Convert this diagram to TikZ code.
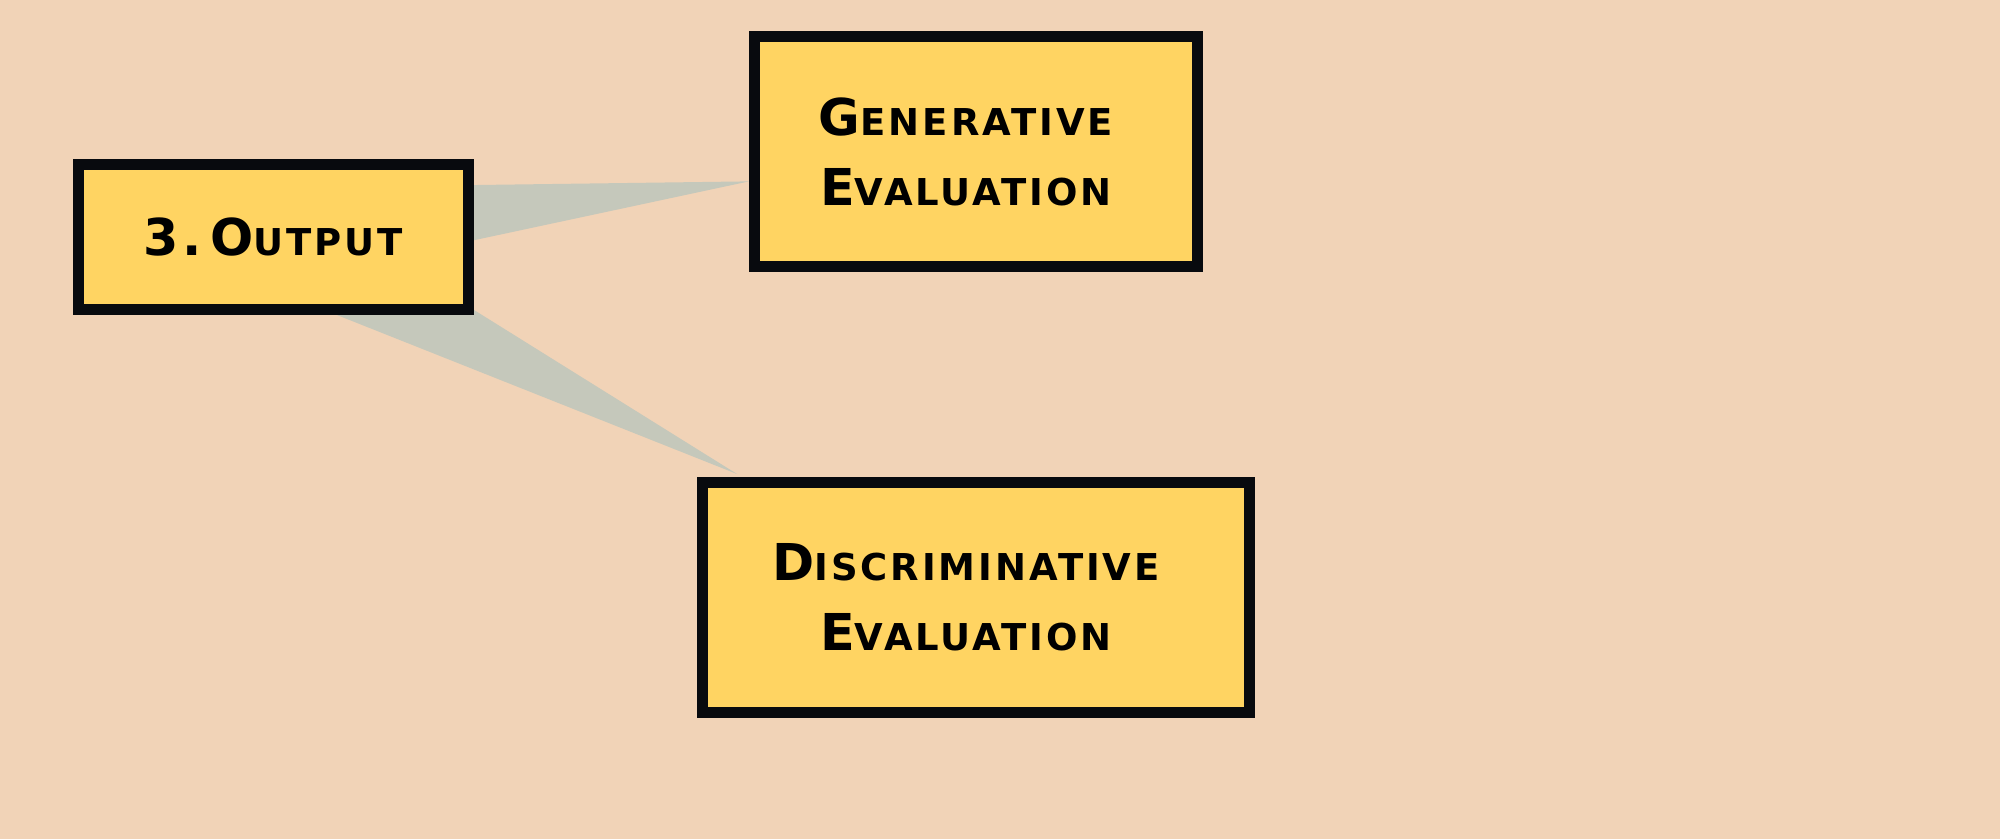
\documentclass[tikz,border=0pt]{standalone}
\usepackage{fontspec}
\setmainfont{DejaVu Sans}
\usetikzlibrary{backgrounds,calc}
\definecolor{page}{RGB}{241,211,183}
\definecolor{boxfill}{RGB}{255,212,98}
\definecolor{wedge}{RGB}{197,200,187}
\definecolor{ink}{RGB}{8,10,14}
% larger initial capitals for the small-caps look
\newcommand\capL[1]{{\fontsize{25.4}{35}\selectfont #1}}
% trailing kern nudges a centred line a little to the left
\newcommand\nudge{\kern10pt}
\tikzset{
  card/.style={draw=ink, fill=boxfill, line width=5.5pt, inner sep=0pt,
    align=center,
    font=\bfseries\fontsize{18.5}{35}\selectfont\addfontfeatures{LetterSpace=8}},
}
\begin{document}
\begin{tikzpicture}[x=0.5pt,y=-0.5pt]
\useasboundingbox (0,0) rectangle (2000,839);

\node[card, minimum width=195pt, minimum height=72.5pt] (out) at (273,237.5)
  {\capL{3.\,O}UTPUT};
\node[card, minimum width=221.5pt, minimum height=115pt] (gen) at (976,151.5)
  {\capL{G}ENERATIVE\nudge\\\capL{E}VALUATION\nudge};
\node[card, minimum width=273.5pt, minimum height=115pt] (disc) at (976,597.5)
  {\capL{D}ISCRIMINATIVE\nudge\\\capL{E}VALUATION\nudge};

\begin{pgfonlayer}{background}
  \fill[page] (0,0) rectangle (2000,839);
  % callout wedges from the output box to the two evaluation boxes
  \fill[wedge] ($(out.center)+(167,-52)$)
    -- ($(gen.north west)!0.624!(gen.south west)$)
    -- ($(out.center)+(167,10)$) -- cycle;
  \fill[wedge] ($(out.center)+(1,52.5)$)
    -- ($(disc.north west)+(40,-3)$)
    -- ($(out.center)+(169,52.5)$) -- cycle;
\end{pgfonlayer}
\end{tikzpicture}
\end{document}
